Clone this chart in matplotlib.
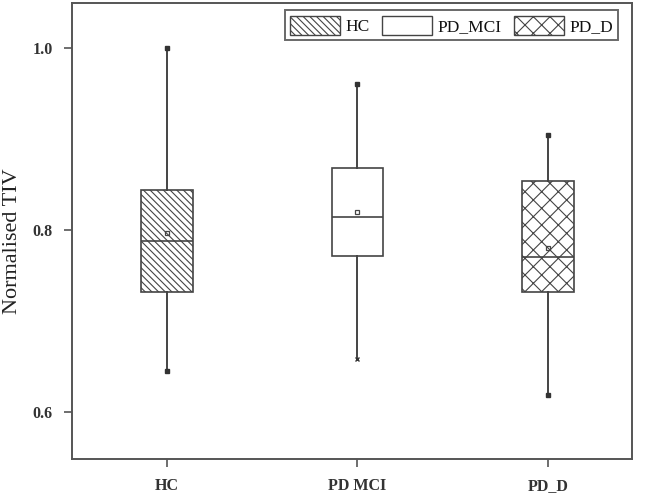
import matplotlib
matplotlib.use("Agg")
import matplotlib.pyplot as plt
from matplotlib.patches import Patch

groups = ["HC", "PD_MCI", "PD_D"]
tick_labels = ["HC", "PD MCI", "PD_D"]
q1 = [0.731, 0.771, 0.732]
med = [0.788, 0.814, 0.770]
q3 = [0.844, 0.868, 0.853]
whislo = [0.645, 0.658, 0.618]
whishi = [1.000, 0.960, 0.904]
means = [0.796, 0.819, 0.780]
hatches = ["\\\\\\\\\\", "", "xx"]

plt.rcParams["font.family"] = ["Liberation Serif", "DejaVu Serif"]
plt.rcParams["hatch.linewidth"] = 0.8
plt.rcParams["hatch.color"] = "#555555"

fig = plt.figure(figsize=(6.45, 4.98), dpi=100)
ax = fig.add_axes([72/645, 1 - 459/498, (632-72)/645, (459-3)/498])

stats = []
for i, g in enumerate(groups):
    stats.append(dict(label=g, q1=q1[i], med=med[i], q3=q3[i],
                      whislo=whislo[i], whishi=whishi[i], mean=means[i], fliers=[]))

pos = [1, 2, 3]
bp = ax.bxp(stats, positions=pos, widths=0.27, patch_artist=True,
            showmeans=True, showcaps=False,
            boxprops=dict(facecolor="white", edgecolor="#444444", linewidth=1.2),
            medianprops=dict(color="#444444", linewidth=1.2),
            whiskerprops=dict(color="#444444", linewidth=1.4),
            meanprops=dict(marker="s", markersize=3, markerfacecolor="none",
                           markeredgecolor="#444444", markeredgewidth=0.9))
for patch, h in zip(bp["boxes"], hatches):
    patch.set_hatch(h)

ends_marker = ["s", "x", "s"]
for i in range(3):
    ax.plot([pos[i]], [whishi[i]], marker="s", markersize=2.5, color="#333333", ls="none")
    ax.plot([pos[i]], [whislo[i]], marker=ends_marker[i], markersize=3, color="#333333",
            ls="none", markeredgewidth=1)

ax.set_xlim(0.503, 3.44)
ax.set_ylim(0.548, 1.049)
ax.set_yticks([0.6, 0.8, 1.0])
ax.set_yticklabels(["0.6", "0.8", "1.0"], fontsize=11.5, fontweight="bold", color="#333333")
ax.set_xticks(pos)
ax.set_xticklabels(tick_labels, fontsize=11.5, fontweight="bold", color="#333333")
ax.tick_params(direction="out", length=6, width=1.2, color="#555555", pad=8)
for s in ax.spines.values():
    s.set_color("#555555")
    s.set_linewidth(1.4)
fig.text(13/645, 1 - 241/498, "Normalised TIV", fontsize=16, color="#222222",
         rotation=90, ha="center", va="center")

handles = [Patch(facecolor="white", edgecolor="#444444", hatch=h, linewidth=1) for h in hatches]
leg = ax.legend(handles, groups, ncol=3, loc="upper right", bbox_to_anchor=(0.985, 0.995),
                frameon=True, fancybox=False, edgecolor="#444444",
                prop=dict(size=12.5),
                handlelength=2.9, handleheight=1.3, columnspacing=0.7, handletextpad=0.3,
                borderpad=0.3, borderaxespad=0.3)
leg.get_frame().set_linewidth(1.4)
for t in leg.get_texts():
    t.set_color("#111111")

fig.savefig("out.png", dpi=100)
